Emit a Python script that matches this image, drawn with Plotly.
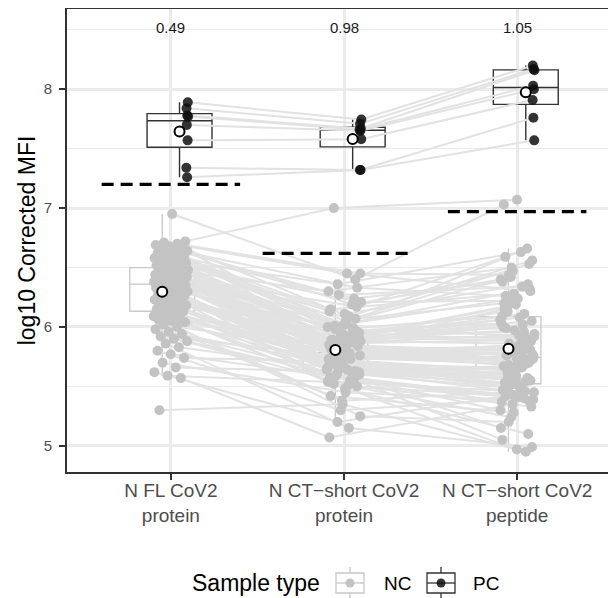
import numpy as np
import plotly.graph_objects as go

# ---------------- data ----------------
categories = ["N FL CoV2<br>protein", "N CT\u2212short CoV2<br>protein", "N CT\u2212short CoV2<br>peptide"]
fold_labels = ["0.49", "0.98", "1.05"]
cutoffs = [7.20, 6.62, 6.97]
legend_title = "Sample type"
sample_types = ["NC", "PC"]

nc_fl_protein = [
    5.30, 5.57, 5.59, 5.62, 5.66, 5.70, 5.74, 5.77, 5.80, 5.83,
    5.86, 5.88, 5.90, 5.92, 5.94, 5.96, 5.98, 6.00, 6.02, 6.04,
    6.05, 6.06, 6.07, 6.08, 6.09, 6.10, 6.12, 6.13, 6.14, 6.15,
    6.16, 6.17, 6.18, 6.19, 6.20, 6.21, 6.22, 6.23, 6.24, 6.25,
    6.26, 6.27, 6.27, 6.28, 6.29, 6.30, 6.30, 6.31, 6.32, 6.32,
    6.33, 6.34, 6.34, 6.35, 6.36, 6.36, 6.37, 6.37, 6.38, 6.38,
    6.39, 6.39, 6.40, 6.40, 6.41, 6.41, 6.42, 6.42, 6.43, 6.43,
    6.44, 6.44, 6.45, 6.45, 6.46, 6.46, 6.47, 6.47, 6.48, 6.48,
    6.49, 6.50, 6.50, 6.51, 6.52, 6.52, 6.53, 6.54, 6.55, 6.55,
    6.56, 6.57, 6.58, 6.58, 6.59, 6.60, 6.61, 6.62, 6.62, 6.63,
    6.64, 6.65, 6.66, 6.67, 6.68, 6.69, 6.70, 6.71, 6.72, 6.95,
]
nc_ct_protein = [
    5.35, 5.07, 5.53, 5.20, 5.62, 5.45, 5.71, 5.56, 5.30, 5.66,
    5.15, 5.59, 5.50, 5.75, 5.42, 5.57, 5.68, 5.25, 5.78, 5.52,
    5.63, 5.38, 5.73, 5.55, 5.82, 5.60, 5.48, 5.69, 5.58, 5.77,
    5.64, 5.51, 5.80, 5.61, 5.74, 5.57, 5.87, 5.67, 5.60, 5.84,
    5.72, 5.62, 5.91, 5.54, 5.78, 5.70, 5.96, 5.66, 5.81, 5.58,
    5.76, 5.88, 5.64, 5.79, 6.07, 5.68, 5.85, 5.73, 5.61, 5.92,
    5.78, 5.70, 5.99, 5.83, 5.65, 5.90, 5.75, 6.17, 5.80, 5.72,
    5.93, 5.86, 5.76, 6.03, 5.79, 5.91, 5.82, 6.30, 5.77, 5.88,
    5.84, 6.11, 5.89, 5.97, 5.86, 6.21, 5.92, 6.01, 5.87, 5.94,
    6.13, 5.90, 6.36, 5.95, 6.05, 5.89, 6.24, 5.93, 6.00, 6.09,
    5.98, 6.33, 6.02, 6.15, 6.19, 6.27, 6.45, 6.45, 7.00, 6.40,
]
nc_ct_peptide = [
    4.95, 5.35, 5.45, 5.44, 5.62, 5.38, 5.56, 5.05, 5.40, 5.64,
    4.99, 5.41, 5.42, 5.72, 5.28, 5.30, 5.66, 5.20, 5.81, 4.97,
    5.67, 5.46, 5.63, 5.39, 5.82, 5.49, 5.10, 5.61, 5.37, 5.85,
    5.60, 5.33, 5.84, 5.53, 5.69, 5.43, 5.94, 5.48, 5.58, 5.71,
    5.59, 5.47, 6.11, 5.24, 5.77, 5.50, 5.99, 5.57, 5.78, 5.15,
    5.79, 5.86, 5.55, 5.68, 6.20, 5.54, 5.80, 5.75, 5.66, 6.17,
    5.70, 5.65, 6.09, 5.73, 5.51, 6.05, 5.83, 6.59, 5.72, 5.52,
    6.06, 5.89, 5.68, 6.32, 5.74, 6.00, 5.70, 6.50, 5.73, 6.08,
    5.76, 6.36, 5.97, 6.03, 6.02, 6.22, 5.88, 6.24, 6.15, 5.90,
    6.47, 5.92, 6.63, 6.13, 6.53, 6.19, 6.38, 5.96, 6.42, 6.56,
    5.93, 6.26, 6.66, 6.28, 6.40, 6.34, 6.44, 6.30, 7.07, 7.03,
]
pc_fl_protein = [7.26, 7.34, 7.57, 7.70, 7.77, 7.78, 7.84, 7.89]
pc_ct_protein = [7.32, 7.32, 7.58, 7.65, 7.66, 7.67, 7.71, 7.745]
pc_ct_peptide = [7.57, 7.76, 7.91, 8.00, 8.03, 8.16, 8.17, 8.20]

nc_groups = [nc_fl_protein, nc_ct_protein, nc_ct_peptide]
pc_groups = [pc_fl_protein, pc_ct_protein, pc_ct_peptide]

# ---------------- styling ----------------
FONT = "Liberation Sans, Arial, Helvetica, sans-serif"
LINE_COL = "#E2E2E2"
NC_PT = "#C3C3C3"
NC_BOX = "#C8C8C8"
PC_PT = "rgba(15,15,15,0.85)"
PC_BOX = "#333333"
GRID = "#EBEBEB"
AX = "#333333"

# the page body adds an 8px offset; lay the figure out in page coordinates
OFF = 8
W, H = 616, 598
ML, MR, MT = 67 - OFF, 3, 9 - OFF
MB = H - (472 - OFF)
PW, PH = W - ML - MR, H - MT - MB

cat_pos = np.arange(1, len(categories) + 1, dtype=float)
BOX_SHIFT = 0.05
BOX_W = 0.375
PC_SHIFT = 0.095
JIT = 0.10
SEG_LEFT = [0.40, 0.47, 0.40]   # extent of dashed cut-off segments (style)
SEG_RIGHT = [0.40, 0.40, 0.40]


def spread(n, phase, half):
    k = np.arange(n)
    return ((k * 0.6180339887 + phase) % 1.0 - 0.5) * 2 * half


def box_stats(vals):
    v = np.asarray(vals, dtype=float)
    q1, med, q3 = np.percentile(v, [25, 50, 75])
    iqr = q3 - q1
    lo = v[v >= q1 - 1.5 * iqr].min()
    hi = v[v <= q3 + 1.5 * iqr].max()
    return q1, med, q3, lo, hi, v.mean()


def px_x(px):  # page x -> paper
    return (px - OFF - ML) / PW


def px_y(py):  # page y -> paper
    return (H - MB - (py - OFF)) / PH


nc_x = [cat_pos[g] + spread(len(nc_groups[g]), 0.17 + 0.29 * g, JIT) for g in range(3)]
pc_x = [cat_pos[g] + PC_SHIFT + spread(len(pc_groups[g]), 0.4 + 0.2 * g, 0.006) for g in range(3)]

fig = go.Figure()


def paired_lines(xs, groups):
    lx, ly = [], []
    for i in range(len(groups[0])):
        for g in range(3):
            lx.append(float(xs[g][i]))
            ly.append(groups[g][i])
        lx.append(None)
        ly.append(None)
    return lx, ly


for xs, grp in ((nc_x, nc_groups), (pc_x, pc_groups)):
    lx, ly = paired_lines(xs, grp)
    fig.add_trace(go.Scatter(x=lx, y=ly, mode="lines", line=dict(color=LINE_COL, width=2),
                             showlegend=False, hoverinfo="skip"))

cx, cy = [], []
for g, c in enumerate(cutoffs):
    cx += [cat_pos[g] - SEG_LEFT[g], cat_pos[g] + SEG_RIGHT[g], None]
    cy += [c, c, None]
fig.add_trace(go.Scatter(x=cx, y=cy, mode="lines",
                         line=dict(color="black", width=3.2, dash="12px,7px"),
                         showlegend=False, hoverinfo="skip"))


def add_box(groups, shift, color, name, lw):
    st = [box_stats(v) for v in groups]
    fig.add_trace(go.Box(
        x=list(cat_pos + shift),
        q1=[s[0] for s in st], median=[s[1] for s in st], q3=[s[2] for s in st],
        lowerfence=[s[3] for s in st], upperfence=[s[4] for s in st],
        width=BOX_W, whiskerwidth=0, boxpoints=False,
        fillcolor="rgba(0,0,0,0)", line=dict(color=color, width=lw),
        name=name, showlegend=False, hoverinfo="skip"))
    return st


nc_st = add_box(nc_groups, -BOX_SHIFT, NC_BOX, "NC", 1.3)
pc_st = add_box(pc_groups, BOX_SHIFT, PC_BOX, "PC", 1.4)

for g in range(3):
    fig.add_trace(go.Scatter(x=nc_x[g], y=nc_groups[g], mode="markers",
                             marker=dict(color=NC_PT, size=10, line=dict(width=0)),
                             showlegend=False, hoverinfo="skip"))
for g in range(3):
    fig.add_trace(go.Scatter(x=pc_x[g], y=pc_groups[g], mode="markers",
                             marker=dict(color=PC_PT, size=10, line=dict(width=0)),
                             showlegend=False, hoverinfo="skip"))

fig.add_trace(go.Scatter(
    x=list(cat_pos - BOX_SHIFT) + list(cat_pos + BOX_SHIFT),
    y=[s[5] for s in nc_st] + [s[5] for s in pc_st],
    mode="markers",
    marker=dict(color="white", size=10, line=dict(color="black", width=2)),
    showlegend=False, hoverinfo="skip"))

for g, t in enumerate(fold_labels):
    fig.add_annotation(x=cat_pos[g], y=8.52, text=t, showarrow=False,
                       font=dict(size=15, color="#1A1A1A", family=FONT))

# ---------------- manual legend (ggplot-style keys) ----------------
LEG_Y = 583
fig.add_annotation(xref="paper", yref="paper", x=px_x(322), y=px_y(LEG_Y), text=legend_title,
                   showarrow=False, xanchor="right", yanchor="middle",
                   font=dict(size=23, color="black", family=FONT))
key_specs = [(350, NC_BOX, NC_PT, 382), (441, PC_BOX, PC_PT, 471)]
for (kx, bcol, pcol, tx), lab in zip(key_specs, sample_types):
    fig.add_shape(type="line", xref="paper", yref="paper",
                  x0=px_x(kx), x1=px_x(kx), y0=px_y(567), y1=px_y(599),
                  line=dict(color=bcol, width=1.3))
    fig.add_shape(type="rect", xref="paper", yref="paper",
                  x0=px_x(kx - 14), x1=px_x(kx + 14), y0=px_y(573), y1=px_y(593),
                  line=dict(color=bcol, width=1.3), fillcolor="white")
    fig.add_shape(type="line", xref="paper", yref="paper",
                  x0=px_x(kx - 14), x1=px_x(kx + 14), y0=px_y(583), y1=px_y(583),
                  line=dict(color=bcol, width=1.3))
    fig.add_shape(type="circle", xref="paper", yref="paper",
                  x0=px_x(kx - 4.5), x1=px_x(kx + 4.5), y0=px_y(587.5), y1=px_y(578.5),
                  line=dict(width=0), fillcolor=pcol)
    fig.add_annotation(xref="paper", yref="paper", x=px_x(tx), y=px_y(LEG_Y), text=lab,
                       showarrow=False, xanchor="left", yanchor="middle",
                       font=dict(size=19, color="black", family=FONT))

fig.update_layout(
    width=W, height=H,
    margin=dict(l=ML, r=MR, t=MT, b=MB),
    paper_bgcolor="white", plot_bgcolor="white",
    font=dict(family=FONT),
    boxmode="overlay", showlegend=False,
    xaxis=dict(
        range=[0.4, 3.6], tickvals=list(cat_pos), ticktext=categories, automargin=False,
        showgrid=True, gridcolor=GRID, gridwidth=2.5, zeroline=False,
        ticks="outside", ticklen=6, tickwidth=2, tickcolor=AX,
        showline=True, linecolor=AX, linewidth=2, mirror=True,
        tickfont=dict(size=19, color="#4D4D4D", family=FONT),
        ticklabelstandoff=-6,
    ),
    yaxis=dict(
        range=[4.78, 8.675], tickvals=[5, 6, 7, 8], automargin=False,
        showgrid=True, gridcolor=GRID, gridwidth=2.5, zeroline=False,
        minor=dict(dtick=0.5, tick0=0, showgrid=True, gridcolor=GRID, gridwidth=1.2, ticks=""),
        ticks="outside", ticklen=6, tickwidth=2, tickcolor=AX,
        showline=True, linecolor=AX, linewidth=2, mirror=False,
        tickfont=dict(size=15, color="#4D4D4D", family=FONT),
        ticklabelstandoff=4,
        title=dict(text="log10 Corrected MFI", font=dict(size=23, color="black", family=FONT),
                   standoff=2),
    ),
)

fig.write_html("out.html")
